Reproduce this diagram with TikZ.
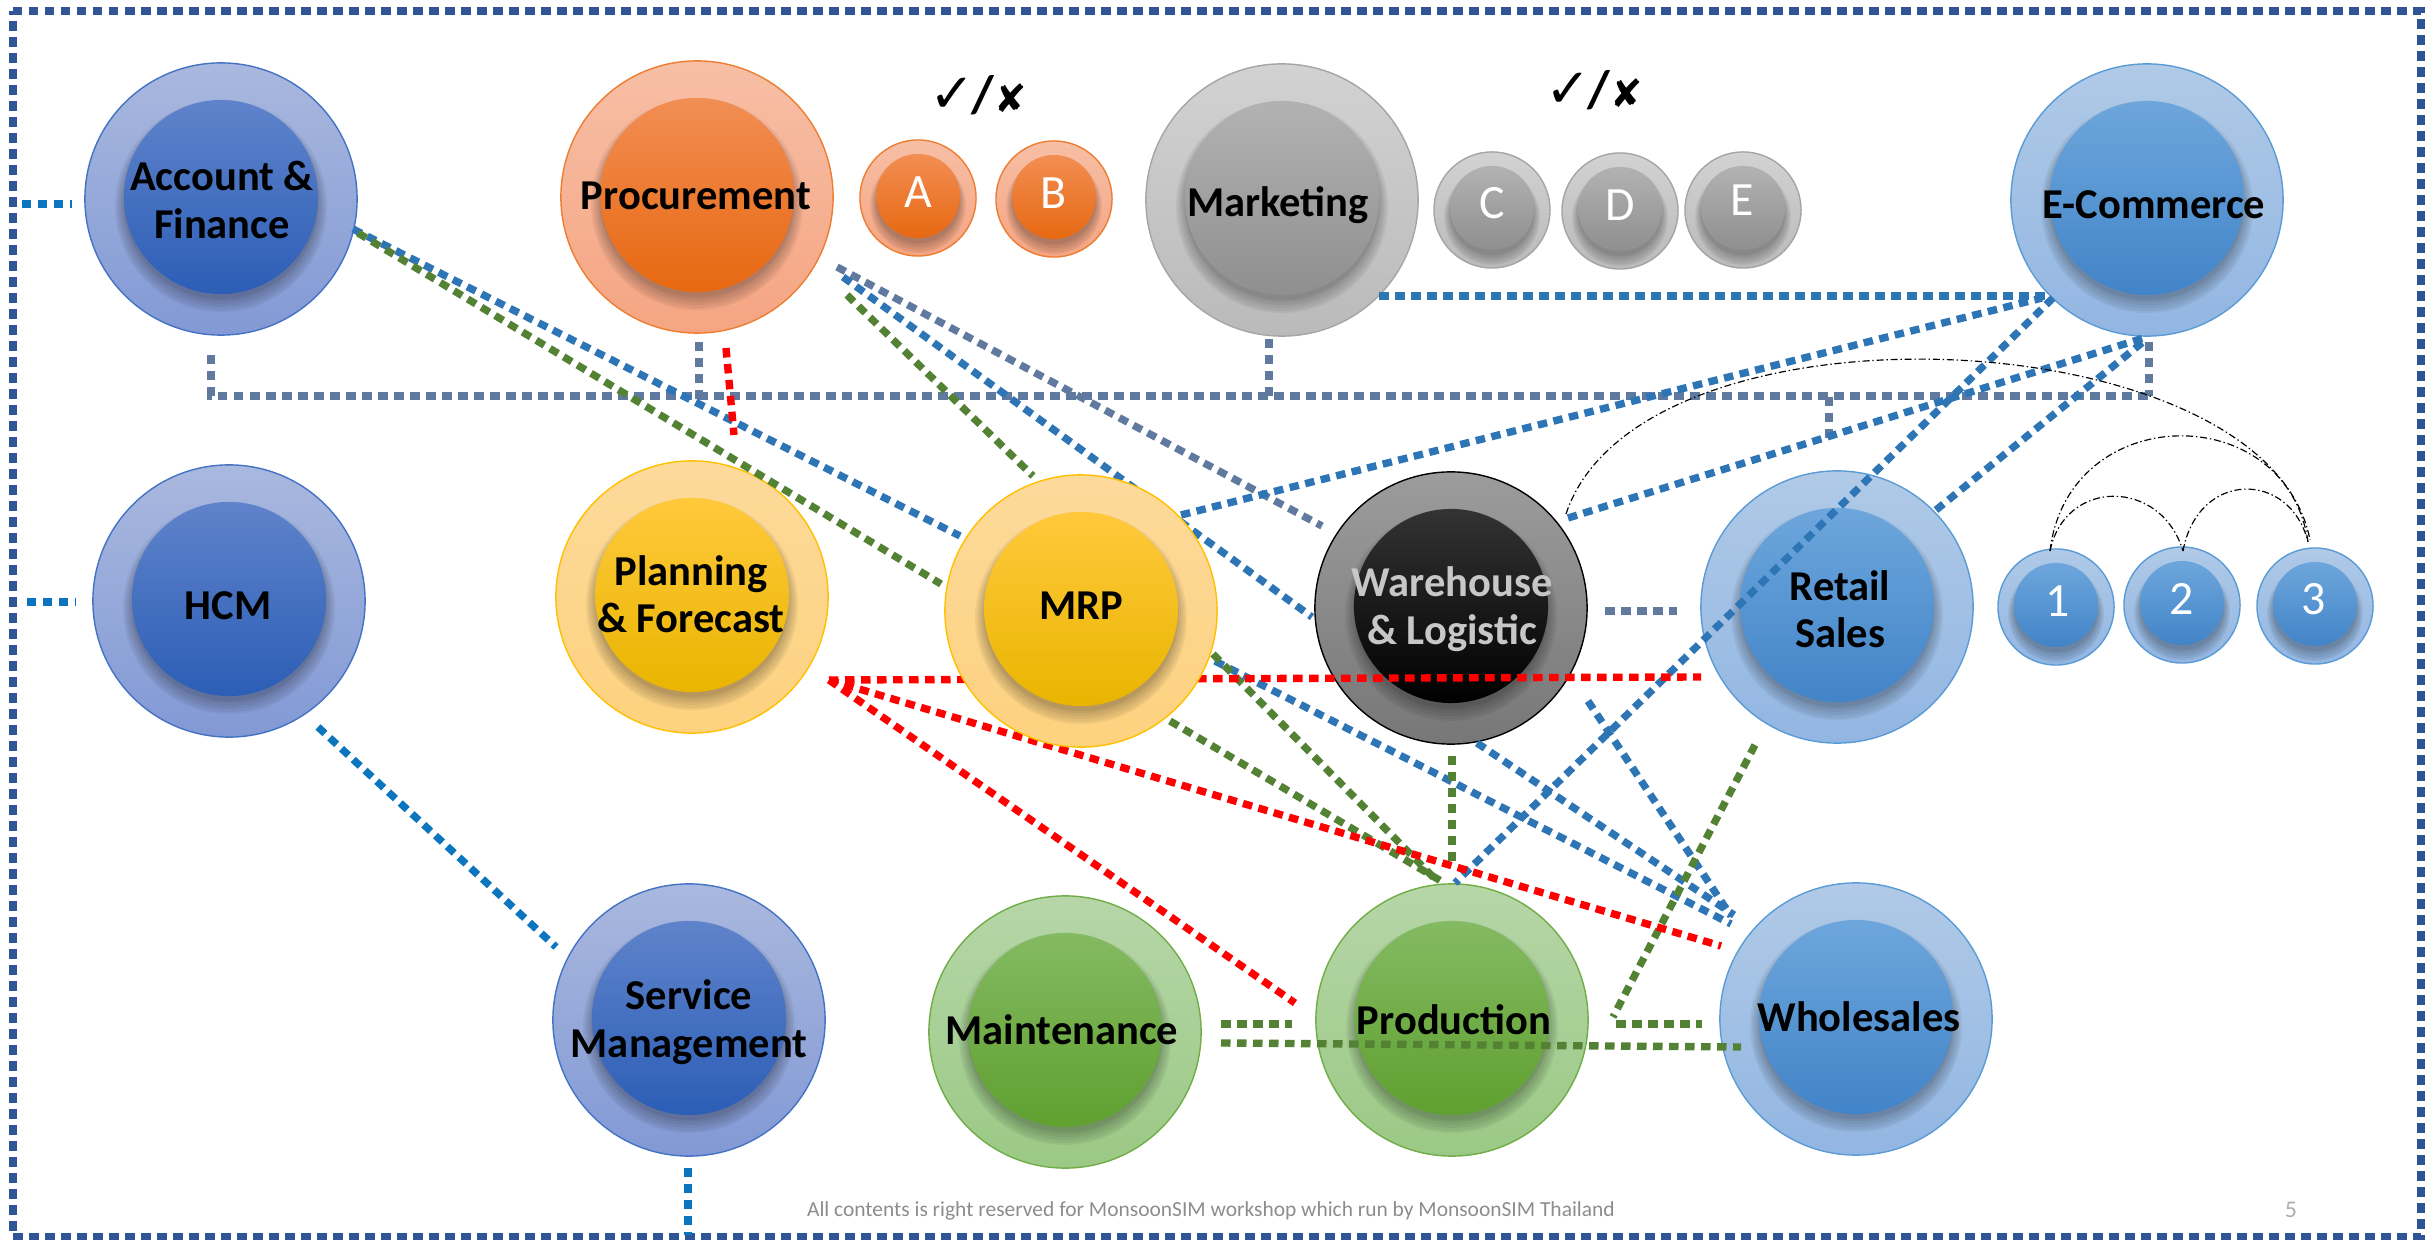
\documentclass[tikz,border=0pt]{standalone}
\usepackage{fontspec}
\setmainfont{Carlito}
\newfontfamily\symfont{DejaVu Sans}
\usetikzlibrary{calc}
\definecolor{dkbOA}{HTML}{A9B8DE}\definecolor{dkbOB}{HTML}{8299D5}\definecolor{dkbIA}{HTML}{5F83CB}\definecolor{dkbIB}{HTML}{2C5EB6}\definecolor{dkbL}{HTML}{4472C4}
\definecolor{orgOA}{HTML}{F7BFA6}\definecolor{orgOB}{HTML}{F5A582}\definecolor{orgIA}{HTML}{F28E54}\definecolor{orgIB}{HTML}{E76810}\definecolor{orgL}{HTML}{ED7D31}
\definecolor{gryOA}{HTML}{D2D2D2}\definecolor{gryOB}{HTML}{BABABA}\definecolor{gryIA}{HTML}{B2B2B2}\definecolor{gryIB}{HTML}{8F8F8F}\definecolor{gryL}{HTML}{A5A5A5}
\definecolor{lbuOA}{HTML}{B0CAE7}\definecolor{lbuOB}{HTML}{92B6E2}\definecolor{lbuIA}{HTML}{6DA6DC}\definecolor{lbuIB}{HTML}{4284C8}\definecolor{lbuL}{HTML}{5B9BD5}
\definecolor{ylwOA}{HTML}{FDDA9B}\definecolor{ylwOB}{HTML}{FDD27F}\definecolor{ylwIA}{HTML}{FFC93C}\definecolor{ylwIB}{HTML}{E9B500}\definecolor{ylwL}{HTML}{FFC000}
\definecolor{blkOA}{HTML}{9C9C9C}\definecolor{blkOB}{HTML}{777777}\definecolor{blkIA}{HTML}{333333}\definecolor{blkIB}{HTML}{000000}\definecolor{blkL}{HTML}{000000}
\definecolor{grnOA}{HTML}{B6D6A8}\definecolor{grnOB}{HTML}{9BC985}\definecolor{grnIA}{HTML}{84BA62}\definecolor{grnIB}{HTML}{5FA02F}\definecolor{grnL}{HTML}{70AD47}
\definecolor{frameC}{HTML}{2F5597}\definecolor{stubC}{HTML}{0B75BE}\definecolor{blueC}{HTML}{2E75B6}\definecolor{greenC}{HTML}{548235}\definecolor{slateC}{HTML}{5F7A9E}\definecolor{redC}{HTML}{FF0000}\definecolor{footC}{HTML}{8C8C8C}
\tikzset{
  lbl/.style={font=\fontsize{12.1pt}{13.5pt}\selectfont\bfseries,text=black,align=center,inner sep=0pt},
  smalllbl/.style={font=\fontsize{13.6pt}{15pt}\selectfont,text=white,align=center,inner sep=0pt},
  link/.style={line width=2.1pt,dash pattern=on 2.7pt off 1.85pt},
  fr/.style={line width=2.1pt,dash pattern=on 2.7pt off 1.85pt,draw=frameC},
  arc/.style={line width=0.33pt,draw=black,dash pattern=on 2pt off 0.8pt on 0.4pt off 0.8pt},
}
% name, x, y, R, r, palette
\newcommand\bub[6]{%
  \node[circle,inner sep=0pt,minimum size=#4*0.02cm,draw=#6L,line width=0.4pt,top color=#6OA,bottom color=#6OB] (#1) at (#2,#3) {};
  \foreach \sz/\dy in {9/7,7/7,5/6,3/5,1/4,0/3}{
    \fill[black,opacity=0.05] ($(#2,#3)+(0,\dy)$) circle [radius=#5+\sz*(0.4+0.6*#5/97)];
  }
  \node[circle,inner sep=0pt,minimum size=#5*0.02cm,top color=#6IA,bottom color=#6IB] (#1-core) at (#2,#3-2) {};
}
% style, name, start, end
\newcommand\lnk[4]{%
  \coordinate (#2-a) at (#3);
  \coordinate (#2-b) at (#4);
  \draw[link,#1] (#2-a) -- (#2-b);
}
\begin{document}
\begin{tikzpicture}[x=0.01cm,y=-0.01cm]
\useasboundingbox (0,0) rectangle (2435,1240);
% frame
\coordinate (frTL) at (13,11);
\coordinate (frTR) at (2421,11);
\coordinate (frBR) at (2421,1237);
\coordinate (frBL) at (13,1237);
\draw[fr] (frTL) -- (frTR) -- (frBR) -- (frBL) -- cycle;
% circles
\bub{acc}{221}{199}{136}{97}{dkb}
\bub{hcm}{229}{601}{136}{97}{dkb}
\bub{svc}{689}{1020}{136}{97}{dkb}
\bub{pro}{697}{197}{136}{97}{org}
\bub{a}{918}{198}{58}{42}{org}
\bub{b}{1054}{199}{58}{42}{org}
\bub{mkt}{1282}{200}{136}{97}{gry}
\bub{c}{1492}{210}{58}{42}{gry}
\bub{d}{1620}{211}{58}{42}{gry}
\bub{e}{1743}{210}{58}{42}{gry}
\bub{eco}{2147}{200}{136}{97}{lbu}
\bub{pln}{692}{597}{136}{97}{ylw}
\bub{wh}{1451}{608}{136}{97}{blk}
\bub{ret}{1837}{607}{136}{97}{lbu}
\bub{n1}{2056}{607}{58}{42}{lbu}
\bub{n2}{2182}{605}{58}{42}{lbu}
\bub{n3}{2315}{606}{58}{42}{lbu}
\bub{mnt}{1065}{1032}{136}{97}{grn}
\bub{prd}{1452}{1020}{136}{97}{grn}
\bub{whs}{1856}{1019}{136}{97}{lbu}
% stubs
\lnk{draw=stubC}{accstub}{22,204}{72,204}
\lnk{draw=stubC}{hcmstub}{27,602}{76,602}
\lnk{draw=stubC}{hcmsvc}{318,727}{556,947}
\lnk{draw=stubC}{svcstub}{688,1168}{688,1235}
% slate bus
\coordinate (busL) at (211,396);
\coordinate (busR) at (2154,396);
\coordinate (accbus) at (211,355);
\draw[link,draw=slateC] (accbus) -- (busL) -- (busR);
\lnk{draw=slateC}{probus}{699,342}{699,400}
\lnk{draw=slateC}{mktbus}{1269,339}{1269,403}
\lnk{draw=slateC}{ecobus}{2149,342}{2149,396}
\lnk{draw=slateC}{midbus}{1829,397}{1829,438}
\lnk{draw=slateC}{prowh}{837,267}{1322,526}
\lnk{draw=slateC}{whret}{1605,611}{1677,611}
% blue
\lnk{draw=blueC}{accmrp}{353,229}{960,536}
\lnk{draw=blueC}{prowhb}{843,277}{1312,617}
\lnk{draw=blueC}{mrpeco}{1181,515}{2042,298}
\lnk{draw=blueC}{mkteco}{1379,296}{2050,296}
\lnk{draw=blueC}{wheco}{1568,518}{2147,337}
\lnk{draw=blueC}{reteco}{1936,510}{2143,342}
\lnk{draw=blueC}{ecoprd}{2053,298}{1455,883}
\lnk{draw=blueC}{mrpwhs}{1215,661}{1731,924}
\lnk{draw=blueC}{whwhs}{1477,743}{1734,915}
\lnk{draw=blueC}{retwhs}{1588,701}{1731,916}
% green
\lnk{draw=greenC}{accmrpg}{358,233}{941,584}
\lnk{draw=greenC}{promrp}{847,295}{1033,476}
\lnk{draw=greenC}{mrpprd}{1170,721}{1441,881}
\lnk{draw=greenC}{mrpprdb}{1213,654}{1435,879}
\lnk{draw=greenC}{whprd}{1452,756}{1452,865}
\lnk{draw=greenC}{retprd}{1755,745}{1613,1017}
\lnk{draw=greenC}{prdwhs}{1616,1024}{1702,1024}
\lnk{draw=greenC}{mntprd}{1221,1024}{1292,1024}
\lnk{draw=greenC}{mntwhs}{1221,1043}{1741,1047}
% red
\lnk{draw=redC}{propln}{726,348}{734,435}
\lnk{draw=redC}{plnret}{829,680}{1701,677}
\lnk{draw=redC}{plnwhs}{829,680}{1721,946}
\lnk{draw=redC}{plnprd}{829,680}{1295,1003}
% MRP sits over its connectors
\bub{mrp}{1081}{611}{136}{97}{ylw}
% thin arcs
\coordinate (whArc) at (1566,514);
\coordinate (n3Arc) at (2310,540);
\draw[arc] (whArc) .. controls (1640,290) and (2268,318) .. (n3Arc);
\coordinate (n1t) at (2050,551);
\coordinate (n2t) at (2183,551);
\coordinate (n3t) at (2308,542);
\draw[arc] (n1t) .. controls (2068,400) and (2287,398) .. (n3t);
\draw[arc] (n1t) .. controls (2065,478) and (2161,478) .. (n2t);
\draw[arc] (n2t) .. controls (2198,470) and (2290,470) .. (n3t);
% labels
\node[lbl] (acc-t) at (222,200) {Account \&\\Finance};
\node[lbl] (hcm-t) at (228,606) {HCM};
\node[lbl] (svc-t) at (689,1022) {Service\\Management};
\node[lbl] (pro-t) at (696,196) {Procurement};
\node[lbl] (mkt-t) at (1278,205) {Marketing};
\node[lbl] (eco-t) at (2154,205) {E-Commerce};
\node[lbl] (pln-t) at (691,594) {Planning\\\& Forecast};
\node[lbl] (mrp-t) at (1081,606) {MRP};
\node[lbl,text=white!78!black] (wh-t) at (1452,609) {Warehouse\\\& Logistic};
\node[lbl] (ret-t) at (1840,609) {Retail\\Sales};
\node[lbl] (mnt-t) at (1062,1030) {Maintenance};
\node[lbl] (prd-t) at (1454,1020) {Production};
\node[lbl] (whs-t) at (1859,1017) {Wholesales};
\node[smalllbl] (a-t) at (918,192) {A};
\node[smalllbl] (b-t) at (1054,193) {B};
\node[smalllbl] (c-t) at (1492,203) {C};
\node[smalllbl] (d-t) at (1620,205) {D};
\node[smalllbl] (e-t) at (1742,200) {E};
\node[smalllbl] (n1-t) at (2058,601) {1};
\node[smalllbl] (n2-t) at (2182,599) {2};
\node[smalllbl] (n3-t) at (2314,599) {3};
% tick marks
\node[inner sep=0pt] (tick1) at (978,95) {{\symfont\fontsize{15.5pt}{16pt}\selectfont ✓}\kern-1pt{\fontsize{15pt}{15pt}\selectfont\bfseries /}{\symfont\fontsize{11pt}{12pt}\selectfont ✘}};
\node[inner sep=0pt] (tick2) at (1594,90) {{\symfont\fontsize{15.5pt}{16pt}\selectfont ✓}\kern-1pt{\fontsize{15pt}{15pt}\selectfont\bfseries /}{\symfont\fontsize{11pt}{12pt}\selectfont ✘}};
% footer
\node[text=footC,font=\fontsize{6.1pt}{7pt}\selectfont,inner sep=0pt] (foot) at (1211,1211) {All contents is right reserved for MonsoonSIM workshop which run by MonsoonSIM Thailand};
\node[text=footC!70!white,font=\fontsize{6.8pt}{8pt}\selectfont,inner sep=0pt] (page) at (2291,1210) {5};
\end{tikzpicture}
\end{document}
